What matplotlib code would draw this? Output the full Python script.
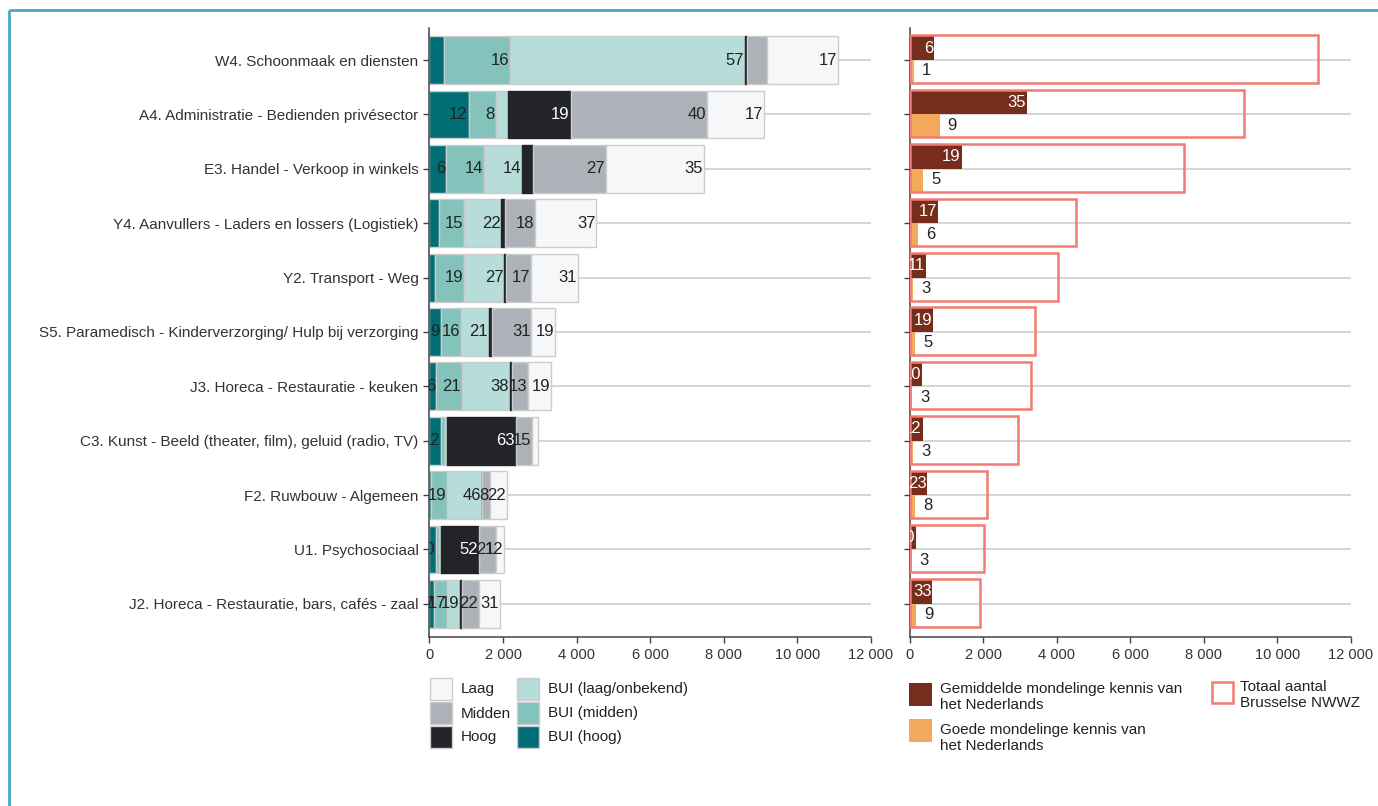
import matplotlib
matplotlib.use("Agg")
import matplotlib.pyplot as plt
import numpy as np
from matplotlib.patches import Rectangle
from matplotlib.ticker import FuncFormatter

plt.rcParams['font.family'] = ['Liberation Sans', 'DejaVu Sans']

# beroepen, van boven naar onder
categories = [
    "W4. Schoonmaak en diensten",
    "A4. Administratie - Bedienden privésector",
    "E3. Handel - Verkoop in winkels",
    "Y4. Aanvullers - Laders en lossers (Logistiek)",
    "Y2. Transport - Weg",
    "S5. Paramedisch - Kinderverzorging/ Hulp bij verzorging",
    "J3. Horeca - Restauratie - keuken",
    "C3. Kunst - Beeld (theater, film), geluid (radio, TV)",
    "F2. Ruwbouw - Algemeen",
    "U1. Psychosociaal",
    "J2. Horeca - Restauratie, bars, cafés - zaal",
]

# aantal NWWZ per studieniveau (gestapeld, links naar rechts)
bui_hoog   = [390, 1067, 443, 253, 163, 308, 190, 326, 36, 190, 120]
bui_midden = [1810, 733, 1032, 688, 778, 552, 697, 100, 443, 60, 353]
bui_laag   = [6380, 344, 1041, 1014, 1095, 751, 1294, 60, 950, 60, 362]
hoog       = [40, 1692, 299, 90, 36, 90, 54, 1865, 5, 1041, 45]
midden     = [560, 3702, 1982, 815, 697, 1068, 452, 443, 199, 452, 462]
laag       = [1930, 1566, 2652, 1675, 1258, 652, 624, 163, 480, 235, 561]

# percentages zoals getoond in de balken ('' = niet getoond)
lab_bui_hoog   = ['', '12', '6', '', '', '9', '6', '12', '', '10', '7']
lab_bui_midden = ['16', '8', '14', '15', '19', '16', '21', '', '19', '', '17']
lab_bui_laag   = ['57', '', '14', '22', '27', '21', '38', '', '46', '', '19']
lab_hoog       = ['', '19', '', '', '', '', '', '63', '', '52', '']
lab_midden     = ['', '40', '27', '18', '17', '31', '13', '15', '8', '21', '22']
lab_laag       = ['17', '17', '35', '37', '31', '19', '19', '', '22', '12', '31']

# kennis van het Nederlands
gemiddeld = [664, 3186, 1415, 771, 440, 650, 340, 356, 485, 190, 621]
goede     = [110, 819, 372, 236, 92, 155, 80, 89, 155, 60, 170]
lab_gemiddeld = ['6', '35', '19', '17', '11', '19', '10', '12', '23', '10', '33']
lab_goede     = ['1', '9', '5', '6', '3', '5', '3', '3', '8', '3', '9']

series = [
    ("BUI (hoog)", bui_hoog, lab_bui_hoog, "#006e74"),
    ("BUI (midden)", bui_midden, lab_bui_midden, "#84c3bc"),
    ("BUI (laag/onbekend)", bui_laag, lab_bui_laag, "#b6ddd9"),
    ("Hoog", hoog, lab_hoog, "#222428"),
    ("Midden", midden, lab_midden, "#adb2b8"),
    ("Laag", laag, lab_laag, "#f6f7f9"),
]
BROWN, ORANGE, RED = "#772d1b", "#f2a95b", "#f27a72"
EDGE, GRID, INK = "#cccccc", "#d2d2d2", "#333333"
NARROW = ['Liberation Sans Narrow', 'Liberation Sans', 'DejaVu Sans']
LABSIZE = 12

y = np.arange(len(categories))
totals = np.sum([s[1] for s in series], axis=0)

fig = plt.figure(figsize=(13.78, 8.06), dpi=100)
axL = fig.add_axes([429.5 / 1378, 169.5 / 806, 441.5 / 1378, 608.5 / 806])
axR = fig.add_axes([909.5 / 1378, 169.5 / 806, 441.5 / 1378, 608.5 / 806])

thousands = FuncFormatter(lambda v, _: f"{int(v):,}".replace(",", " "))
for ax in (axL, axR):
    ax.set_xlim(0, 12000)
    ax.set_ylim(10.6, -0.59)
    ax.set_xticks(np.arange(0, 12001, 2000))
    ax.xaxis.set_major_formatter(thousands)
    ax.set_yticks(y)
    for yy in y:
        ax.axhline(yy, color=GRID, lw=1.3, zorder=0)
    for s in ("top", "right"):
        ax.spines[s].set_visible(False)
    for s in ("left", "bottom"):
        ax.spines[s].set_color("#444444")
        ax.spines[s].set_linewidth(1.1)
    ax.tick_params(axis="both", length=4.5, width=1, color="#444444",
                   labelcolor=INK, labelsize=10.5)
axL.set_yticklabels(categories, fontsize=11)
axR.set_yticklabels([])

# links: gestapelde balken naar studieniveau
left = np.zeros(len(categories))
for name, vals, labs, col in series:
    vals = np.array(vals, dtype=float)
    ec = col if name == "Hoog" else EDGE
    axL.barh(y, vals, left=left, height=0.88, color=col, edgecolor=ec,
             linewidth=1, zorder=2)
    ends = left + vals
    for yy, xe, t in zip(y, ends, labs):
        if t:
            axL.text(xe - 25, yy, t, ha="right", va="center",
                     color="white" if name == "Hoog" else "#222222",
                     fontsize=LABSIZE, family=NARROW, zorder=4, clip_on=True)
    left = ends

# rechts: kennis Nederlands + totaal
axR.barh(y - 0.22, gemiddeld, height=0.44, color=BROWN, zorder=2)
axR.barh(y + 0.22, goede, height=0.44, color=ORANGE, zorder=2)
axR.barh(y - 0.015, totals, height=0.875, facecolor="none", edgecolor=RED,
         linewidth=1.8, zorder=3)
for yy, v, t in zip(y, gemiddeld, lab_gemiddeld):
    axR.text(v - 25, yy - 0.22, t, ha="right", va="center", color="white",
             fontsize=LABSIZE, family=NARROW, zorder=4, clip_on=True)
for yy, v, t in zip(y, goede, lab_goede):
    axR.text(v + 220, yy + 0.2, t, ha="left", va="center", color="#222222",
             fontsize=LABSIZE, family=NARROW, zorder=4, clip_on=True)

# overlay voor kader en legendes (pixelcoordinaten)
ov = fig.add_axes([0, 0, 1, 1], zorder=-1)
ov.set_xlim(0, 1378)
ov.set_ylim(806, 0)
ov.axis("off")
ov.plot([9, 1378], [10, 10], color="#4ba7c5", lw=2, solid_capstyle="butt")
ov.plot([9, 9], [10, 806], color="#4ba7c5", lw=2, solid_capstyle="butt")

leg_left = [
    ("Laag", "#f6f7f9", 430, 678), ("Midden", "#adb2b8", 430, 702),
    ("Hoog", "#222428", 430, 726),
    ("BUI (laag/onbekend)", "#b6ddd9", 517, 678),
    ("BUI (midden)", "#84c3bc", 517, 702), ("BUI (hoog)", "#006e74", 517, 726),
]
for txt, col, x0, y0 in leg_left:
    ov.add_patch(Rectangle((x0, y0), 22, 22, facecolor=col, edgecolor=EDGE, lw=1))
    ov.text(x0 + 31, y0 + 11.5, txt, ha="left", va="center", fontsize=11,
            color="#222222")

ov.add_patch(Rectangle((909, 683), 23, 23, facecolor=BROWN, edgecolor="none"))
ov.text(940, 697, "Gemiddelde mondelinge kennis van\nhet Nederlands", ha="left",
        va="center", fontsize=11, color="#222222", linespacing=1.12)
ov.add_patch(Rectangle((909, 719), 23, 23, facecolor=ORANGE, edgecolor="none"))
ov.text(940, 738, "Goede mondelinge kennis van\nhet Nederlands", ha="left",
        va="center", fontsize=11, color="#222222", linespacing=1.12)
ov.add_patch(Rectangle((1212, 682), 21, 21, facecolor="white", edgecolor=RED, lw=1.8))
ov.text(1240, 695, "Totaal aantal\nBrusselse NWWZ", ha="left", va="center",
        fontsize=11, color="#222222", linespacing=1.12)

fig.savefig("out.png", dpi=100)
